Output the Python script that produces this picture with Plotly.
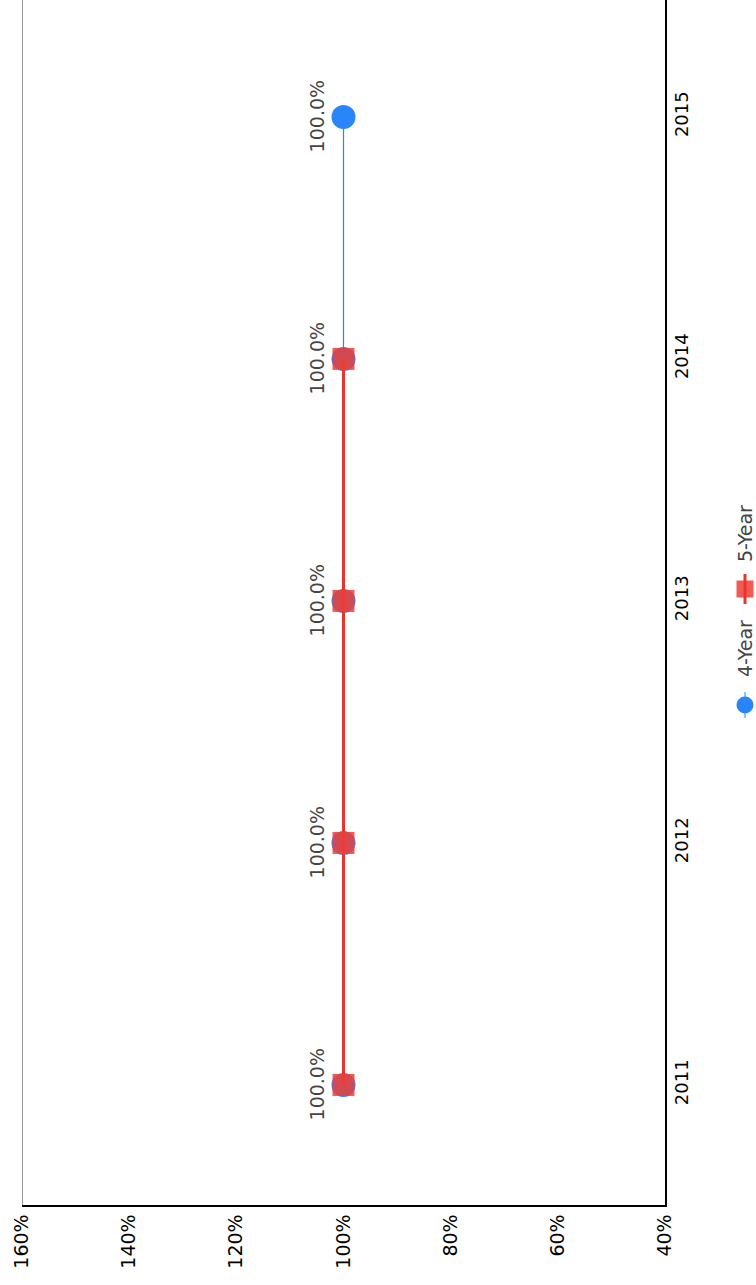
import plotly.graph_objects as go

# Graduation rates by cohort year (chart is drawn turned a quarter turn)
years = [2011, 2012, 2013, 2014, 2015]
rate_4yr = [100.0, 100.0, 100.0, 100.0, 100.0]
years_5yr = [2011, 2012, 2013, 2014]
rate_5yr = [100.0, 100.0, 100.0, 100.0]
pct_ticks = [40, 60, 80, 100, 120, 140, 160]
series_names = ["4-Year", "5-Year"]

blue = "rgb(40,134,250)"
red = "rgba(240,62,52,0.85)"
red_line = "rgb(232,52,44)"
font = "DejaVu Sans"

W, H = 756, 1285
L, R, T, B = 22, 91, 0, 80

fig = go.Figure()
fig.add_trace(go.Scatter(x=rate_4yr, y=years, mode="lines+markers", name=series_names[0],
                         line=dict(color=blue, width=1.2),
                         marker=dict(symbol="circle", size=24, color=blue),
                         showlegend=False))
fig.add_trace(go.Scatter(x=rate_5yr, y=years_5yr, mode="lines+markers", name=series_names[1],
                         line=dict(color=red_line, width=3),
                         marker=dict(symbol="square", size=22, color=red),
                         showlegend=False))

# value labels, sitting on the left of each point, turned like the rest
for yr, v in zip(years, rate_4yr):
    fig.add_annotation(x=v, y=yr, text=f"{v:.1f}%", showarrow=False, textangle=-90,
                       xshift=-27, xanchor="center", yanchor="middle",
                       font=dict(family=font, size=19, color="#444"))

# thin grey border on the far (160%) side
fig.add_shape(type="line", xref="x", yref="paper", x0=160, x1=160, y0=0, y1=1,
              line=dict(color="#777", width=1.5))

# hand-made legend, turned as well
pw, ph = W - L - R, H - T - B
px = lambda x: (x - L) / pw
py = lambda y: (H - B - y) / ph
lx = px(745)
fig.add_shape(type="line", xref="paper", yref="paper", x0=lx, x1=lx, y0=py(692), y1=py(718),
              line=dict(color=blue, width=1))
fig.add_shape(type="circle", xref="paper", yref="paper", xsizemode="pixel", ysizemode="pixel",
              xanchor=lx, yanchor=py(705), x0=-8.5, x1=8.5, y0=-8.5, y1=8.5,
              fillcolor=blue, line=dict(width=0))
fig.add_shape(type="rect", xref="paper", yref="paper", xsizemode="pixel", ysizemode="pixel",
              xanchor=lx, yanchor=py(589), x0=-8.5, x1=8.5, y0=-8.5, y1=8.5,
              fillcolor=red, line=dict(width=0))
fig.add_shape(type="line", xref="paper", yref="paper", x0=lx, x1=lx, y0=py(574), y1=py(604),
              line=dict(color=red_line, width=3))
for name, yc in zip(series_names, [648, 533]):
    fig.add_annotation(xref="paper", yref="paper", x=lx, y=py(yc), text=name, showarrow=False,
                       textangle=-90, xanchor="center", yanchor="middle",
                       font=dict(family=font, size=19, color="#444"))

fig.update_layout(
    width=W, height=H,
    margin=dict(l=L, r=R, t=T, b=B),
    plot_bgcolor="white", paper_bgcolor="white",
    font=dict(family=font, size=18, color="black"),
    xaxis=dict(range=[160, 40], tickvals=pct_ticks, ticktext=[f"{v}%" for v in pct_ticks],
               tickangle=-90, tickfont=dict(size=19), showline=True, linecolor="black",
               linewidth=1.5, showgrid=False, zeroline=False, ticks=""),
    yaxis=dict(range=[2010.504, 2015.483], tickvals=years, side="right", tickangle=-90,
               showline=True, linecolor="black", linewidth=1.5, showgrid=False,
               zeroline=False, ticks=""),
)

# drop the page's default body margin so the figure fills the window
fig.write_html("out.html", config={"displayModeBar": False},
               post_script="document.body.style.margin='0';")
